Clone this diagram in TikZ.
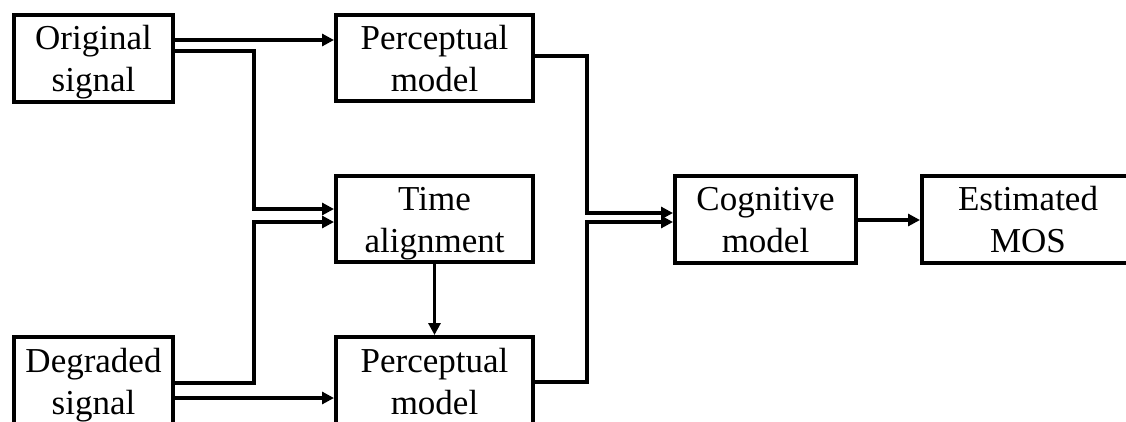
\documentclass[tikz,border=0pt]{standalone}
\usepackage{fontspec}
\setmainfont{Liberation Serif}
\usetikzlibrary{arrows.meta}
% two centred lines, set a little below the box middle
\newcommand\twolines[2]{\raisebox{-4pt}[\height][\depth]{\begin{tabular}{@{}c@{}}#1\\#2\end{tabular}}}
\begin{document}
\begin{tikzpicture}[x=1pt,y=-1pt,
  blk/.style={draw=black, line width=4pt, rectangle, inner sep=0pt,
              font=\fontsize{35}{42}\selectfont},
  conn/.style={draw=black, line width=3.5pt, line join=miter},
  arr/.style={conn, -{Triangle[length=12pt,width=12pt]}}]
\useasboundingbox (0,0) rectangle (1126,421);
\clip (0,0) rectangle (1126,421);

% processing blocks
\node[blk, minimum width=159pt, minimum height=87pt] (orig) at (93.5,58.5) {\twolines{Original}{signal}};
\node[blk, minimum width=197pt, minimum height=86pt] (pt)   at (434.5,58) {\twolines{Perceptual}{model}};
\node[blk, minimum width=197pt, minimum height=86pt] (ta)   at (434.5,219) {\twolines{Time}{alignment}};
\node[blk, minimum width=197pt, minimum height=88pt] (pb)   at (434.5,381) {\twolines{Perceptual}{model}};
\node[blk, minimum width=159pt, minimum height=88pt] (deg)  at (93.5,381) {\twolines{Degraded}{signal}};
\node[blk, minimum width=181pt, minimum height=87pt] (cog)  at (765.5,219.5) {\twolines{Cognitive}{model}};
\node[blk, minimum width=212pt, minimum height=87pt] (est)  at (1028,219.5) {\twolines{Estimated}{MOS}};

% junction columns for the routed lines
\coordinate (jl) at (254,0);
\coordinate (jr) at (587,0);

% original signal paths
\draw[arr] (orig.east |- 0,40) -- (pt.west |- 0,40);
\draw[arr] (orig.east |- 0,51) -- (jl |- 0,51) -- (jl |- 0,209) -- (ta.west |- 0,209);

% degraded signal paths
\draw[arr] (deg.east |- 0,383) -- (jl |- 0,383) -- (jl |- 0,222) -- (ta.west |- 0,222);
\draw[arr] (deg.east |- 0,398) -- (pb.west |- 0,398);

% alignment feeds the lower perceptual model
\draw[arr] (ta.south) -- (pb.north);

% perceptual models into the cognitive model
\draw[arr] (pt.east |- 0,56) -- (jr |- 0,56) -- (jr |- 0,213) -- (cog.west |- 0,213);
\draw[arr] (pb.east |- 0,382) -- (jr |- 0,382) -- (jr |- 0,222) -- (cog.west |- 0,222);

% final score
\draw[arr] (cog.east |- 0,220) -- (est.west |- 0,220);
\end{tikzpicture}
\end{document}
